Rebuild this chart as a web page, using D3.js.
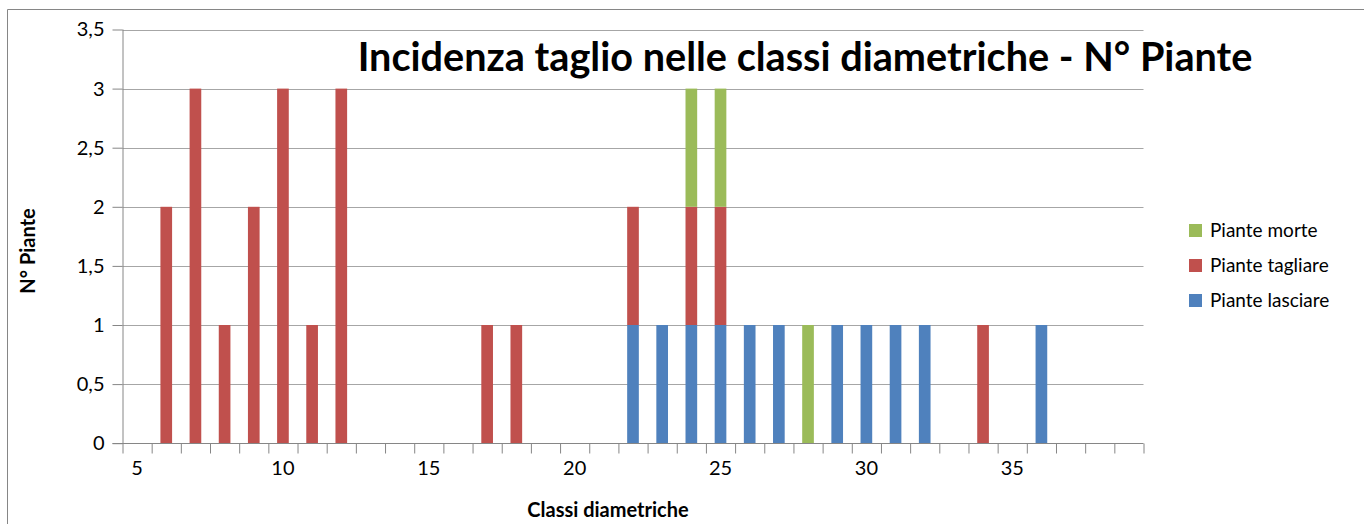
<!DOCTYPE html>
<html>
<head>
<meta charset="utf-8">
<script src="https://cdn.jsdelivr.net/npm/d3@7"></script>
<style>
  body { margin: 0; background: #fff; }
  text { font-family: Lato, "Open Sans", sans-serif; fill: #000; }
</style>
</head>
<body>
<div id="container"></div>
<script>
const width = 1364,
  height = 524,
  margin = { top: 29.5, bottom: 80.5, left: 122.5, right: 220.5 }

// DATA
const classi = [5, 6, 7, 8, 9, 10, 11, 12, 13, 14, 15, 16, 17, 18, 19, 20, 21, 22,
  23, 24, 25, 26, 27, 28, 29, 30, 31, 32, 33, 34, 35, 36, 37, 38, 39]
const pianteLasciare = [0, 0, 0, 0, 0, 0, 0, 0, 0, 0, 0, 0, 0, 0, 0, 0, 0, 1,
  1, 1, 1, 1, 1, 0, 1, 1, 1, 1, 0, 0, 0, 1, 0, 0, 0]
const pianteTagliare = [0, 2, 3, 1, 2, 3, 1, 3, 0, 0, 0, 0, 1, 1, 0, 0, 0, 1,
  0, 1, 1, 0, 0, 0, 0, 0, 0, 0, 0, 1, 0, 0, 0, 0, 0]
const pianteMorte = [0, 0, 0, 0, 0, 0, 0, 0, 0, 0, 0, 0, 0, 0, 0, 0, 0, 0,
  0, 1, 1, 0, 0, 1, 0, 0, 0, 0, 0, 0, 0, 0, 0, 0, 0]
const xTickLabels = [5, 10, 15, 20, 25, 30, 35]
const yTicks = [0, 0.5, 1, 1.5, 2, 2.5, 3, 3.5]
const seriesNames = ["Piante lasciare", "Piante tagliare", "Piante morte"]
const colors = ["#4F81BD", "#C0504D", "#9BBB59"]

const title = "Incidenza taglio nelle classi diametriche - N° Piante"

// table for the stack
const table = classi.map((c, i) => ({
  classe: c,
  "Piante lasciare": pianteLasciare[i],
  "Piante tagliare": pianteTagliare[i],
  "Piante morte": pianteMorte[i]
}))
const stacked = d3.stack().keys(seriesNames)(table)

// SCALES
const xScale = d3.scaleBand()
  .domain(classi)
  .range([margin.left, width - margin.right])
  .paddingInner(0.6)
  .paddingOuter(0.3)

const xEdges = d3.scaleLinear()
  .domain([0, classi.length])
  .range([margin.left, width - margin.right])

const yScale = d3.scaleLinear()
  .domain([0, 3.5])
  .range([height - margin.bottom - 0.3, margin.top])

const svg = d3.select("#container")
  .append("svg")
  .attr("width", width)
  .attr("height", height)

// chart frame
svg.append("path")
  .attr("d", `M7.5,${height}V9.5H${width}`)
  .attr("fill", "none")
  .attr("stroke", "#868686")

// GRIDLINES
svg.append("g")
  .selectAll("line")
  .data(yTicks.filter(d => d > 0))
  .join("line")
  .attr("x1", margin.left)
  .attr("x2", width - margin.right)
  .attr("y1", d => Math.round(yScale(d)) + 0.5)
  .attr("y2", d => Math.round(yScale(d)) + 0.5)
  .attr("stroke", "#a6a6a6")

// BARS
svg.append("g")
  .selectAll("g")
  .data(stacked)
  .join("g")
  .attr("fill", (d, i) => colors[i])
  .selectAll("rect")
  .data(d => d.filter(p => p[1] - p[0] > 0))
  .join("rect")
  .attr("x", d => xScale(d.data.classe))
  .attr("width", xScale.bandwidth())
  .attr("y", d => yScale(d[1]))
  .attr("height", d => yScale(d[0]) - yScale(d[1]))

// AXES
const yAxis = d3.axisLeft(yScale)
  .tickValues(yTicks)
  .tickSize(10)
  .tickPadding(8)
  .tickFormat(d => String(d).replace(".", ","))
svg.append("g")
  .attr("transform", `translate(${margin.left},0)`)
  .call(yAxis)
  .call(g => g.selectAll("line, path").attr("stroke", "#868686"))
  .call(g => g.select(".domain").attr("d", `M0.5,${yScale(0)}V${margin.top}`))
  .call(g => g.selectAll("text").style("font-size", "20px").attr("font-family", null))

const xEdgeAxis = d3.axisBottom(xEdges)
  .tickValues(d3.range(classi.length + 1))
  .tickSize(10)
  .tickFormat("")
svg.append("g")
  .attr("transform", `translate(0,${Math.round(yScale(0)) + 0.5})`)
  .call(xEdgeAxis)
  .call(g => g.selectAll("line, path").attr("stroke", "#868686"))
  .call(g => g.select(".domain").attr("d", `M${margin.left - 10},0H${width - margin.right}`))

const xAxis = d3.axisBottom(xScale)
  .tickValues(xTickLabels)
  .tickSize(0)
  .tickPadding(18)
svg.append("g")
  .attr("transform", `translate(0,${yScale(0)})`)
  .call(xAxis)
  .call(g => g.select(".domain").remove())
  .call(g => g.selectAll("text").style("font-size", "20px").attr("font-family", null))

// TITLES
const titleText = svg.append("text")
  .attr("x", 805)
  .attr("y", 71)
  .attr("text-anchor", "middle")
  .attr("font-weight", "bold")
  .style("font-size", "36px")
  .text(title)
// squeeze to the width of the original
const tw = titleText.node().getComputedTextLength()
titleText.style("font-size", (36 * 895 / tw) + "px")

svg.append("text")
  .attr("x", 608)
  .attr("y", 517)
  .attr("text-anchor", "middle")
  .attr("font-weight", "bold")
  .style("font-size", "20px")
  .text("Classi diametriche")

svg.append("text")
  .attr("transform", "translate(35,251) rotate(-90)")
  .attr("text-anchor", "middle")
  .attr("font-weight", "bold")
  .style("font-size", "20px")
  .text("N° Piante")

// LEGEND (reverse order like the original)
const legend = svg.append("g")
  .selectAll("g")
  .data(seriesNames.map((n, i) => ({ name: n, color: colors[i] })).reverse())
  .join("g")
  .attr("transform", (d, i) => `translate(1189,${224 + i * 35})`)

legend.append("rect")
  .attr("width", 13)
  .attr("height", 13)
  .attr("fill", d => d.color)

legend.append("text")
  .attr("x", 21)
  .attr("y", 13)
  .style("font-size", "19px")
  .text(d => d.name)
</script>
</body>
</html>
